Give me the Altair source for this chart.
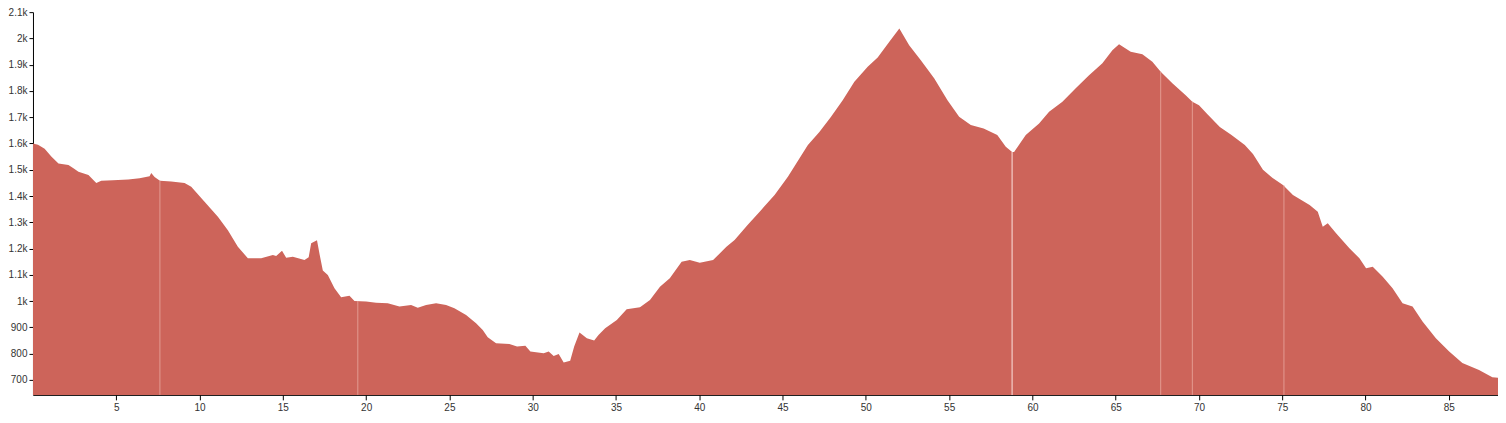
import altair as alt
import pandas as pd

km = [0.00, 0.30, 0.70, 1.10, 1.53, 2.13, 2.45, 2.73, 3.33, 3.80, 4.10, 4.80, 5.72, 6.40, 7.00, 7.10, 7.30, 7.62,
      8.30, 9.10, 9.50, 10.30, 11.10, 11.70, 12.30, 12.90, 13.70, 14.40, 14.60, 14.95, 15.20, 15.60, 16.30, 16.55,
      16.70, 17.05, 17.20, 17.40, 17.70, 18.10, 18.50, 19.00, 19.30, 20.00, 20.60, 21.30, 22.00, 22.70, 23.10, 23.60,
      24.20, 24.80, 25.30, 26.00, 26.60, 27.00, 27.30, 27.80, 28.60, 29.06, 29.56, 29.86, 30.66, 30.96, 31.26, 31.56,
      31.86, 32.25, 32.49, 32.81, 33.25, 33.69, 33.95, 34.35, 35.05, 35.64, 36.44, 37.04, 37.64, 38.23, 38.94, 39.43,
      40.03, 40.83, 41.63, 42.12, 42.90, 43.72, 44.52, 45.32, 45.82, 46.52, 47.21, 47.91, 48.61, 49.31, 50.11, 50.71,
      51.41, 52.01, 52.60, 53.30, 54.10, 54.90, 55.60, 56.30, 57.07, 57.89, 58.40, 58.78, 58.90, 59.60, 60.40, 61.00,
      61.80, 62.60, 63.40, 64.20, 64.80, 65.20, 65.90, 66.60, 67.20, 67.70, 68.40, 69.20, 69.60, 70.00, 70.55, 71.25,
      71.95, 72.75, 73.24, 73.84, 74.40, 75.04, 75.64, 76.64, 77.13, 77.43, 77.73, 78.23, 79.03, 79.63, 80.03, 80.43,
      81.03, 81.62, 82.22, 82.82, 83.42, 84.22, 85.02, 85.81, 86.81, 87.61, 87.95]
elevation = [1600, 1595, 1580, 1550, 1524, 1518, 1505, 1492, 1480, 1450, 1458, 1460, 1463, 1468, 1475, 1488, 1472, 1458,
             1455, 1450, 1435, 1378, 1321, 1270, 1207, 1163, 1163, 1175, 1172, 1192, 1165, 1169, 1156, 1167,
             1220, 1232, 1180, 1116, 1099, 1049, 1015, 1020, 1000, 998, 994, 992, 979, 985, 975, 985,
             992, 985, 973, 947, 916, 890, 862, 840, 837, 827, 830, 808, 801, 808, 791, 799,
             766, 773, 827, 880, 859, 850, 871, 897, 928, 969, 977, 1004, 1055, 1087, 1150, 1156,
             1146, 1156, 1207, 1233, 1290, 1347, 1404, 1473, 1524, 1594, 1644, 1702, 1765, 1835, 1892, 1927,
             1987, 2038, 1974, 1917, 1848, 1765, 1702, 1670, 1657, 1632, 1588, 1568, 1568, 1632, 1676, 1721,
             1759, 1810, 1860, 1905, 1955, 1978, 1949, 1940, 1911, 1873, 1829, 1784, 1759, 1746, 1708, 1663,
             1632, 1594, 1560, 1500, 1470, 1442, 1404, 1366, 1340, 1283, 1296, 1258, 1201, 1163, 1125, 1131,
             1093, 1049, 992, 979, 922, 859, 808, 764, 738, 710, 708]

# thin light seams visible in the profile (gaps in the track data)
seam_km = [7.62, 19.5, 67.7, 69.6, 75.1]
seam_elev = [1458, 1000, 1873, 1759, 1440]
strong_seam_km = [58.78]
strong_seam_elev = [1568]

x_ticks = [5, 10, 15, 20, 25, 30, 35, 40, 45, 50, 55, 60, 65, 70, 75, 80, 85]
y_ticks = [700, 800, 900, 1000, 1100, 1200, 1300, 1400, 1500, 1600, 1700, 1800, 1900, 2000, 2100]

df = pd.DataFrame({"km": km, "elevation": elevation})
seams = pd.DataFrame({"km": seam_km, "elevation": seam_elev})
strong = pd.DataFrame({"km": strong_seam_km, "elevation": strong_seam_elev})

x_scale = alt.Scale(domain=[0, 87.95], nice=False, zero=False)
y_scale = alt.Scale(domain=[643, 2100], nice=False, zero=False)
x_axis = alt.Axis(values=x_ticks, title=None, grid=False, tickSize=5, labelPadding=3,
                  labelOverlap=False, domainColor="#000", tickColor="#000")
y_axis = alt.Axis(values=y_ticks, labelExpr="datum.value >= 1000 ? format(datum.value, '~s') : format(datum.value, 'd')",
                  title=None, grid=False, tickSize=4, labelPadding=2, labelOverlap=False, labelBound=False,
                  domainColor="#000", tickColor="#000")

enc_x = alt.X("km:Q", scale=x_scale, axis=x_axis)
enc_y = alt.Y("elevation:Q", scale=y_scale, axis=y_axis)

area = alt.Chart(df).mark_area(color="#cd645a", clip=True, interpolate="linear").encode(x=enc_x, y=enc_y)

faint = alt.Chart(seams).mark_rule(color="#e39b92", strokeWidth=1).encode(
    x=enc_x, y=enc_y, y2=alt.value(383),
)
bright = alt.Chart(strong).mark_rule(color="#f4cdc8", strokeWidth=1.2).encode(
    x=enc_x, y=enc_y, y2=alt.value(383),
)

chart = alt.layer(area, faint, bright).properties(
    width=1466, height=383,
    autosize=alt.AutoSizeParams(type="none"),
    padding={"left": 25, "top": 4, "right": 0, "bottom": 20},
).configure_view(stroke=None).configure_axis(
    labelFont="Liberation Sans", labelFontSize=10, labelColor="#333", domainWidth=1, tickWidth=1,
    labelOverlap=False
)

chart.save("out.html", embed_options={"renderer": "svg", "actions": False})
